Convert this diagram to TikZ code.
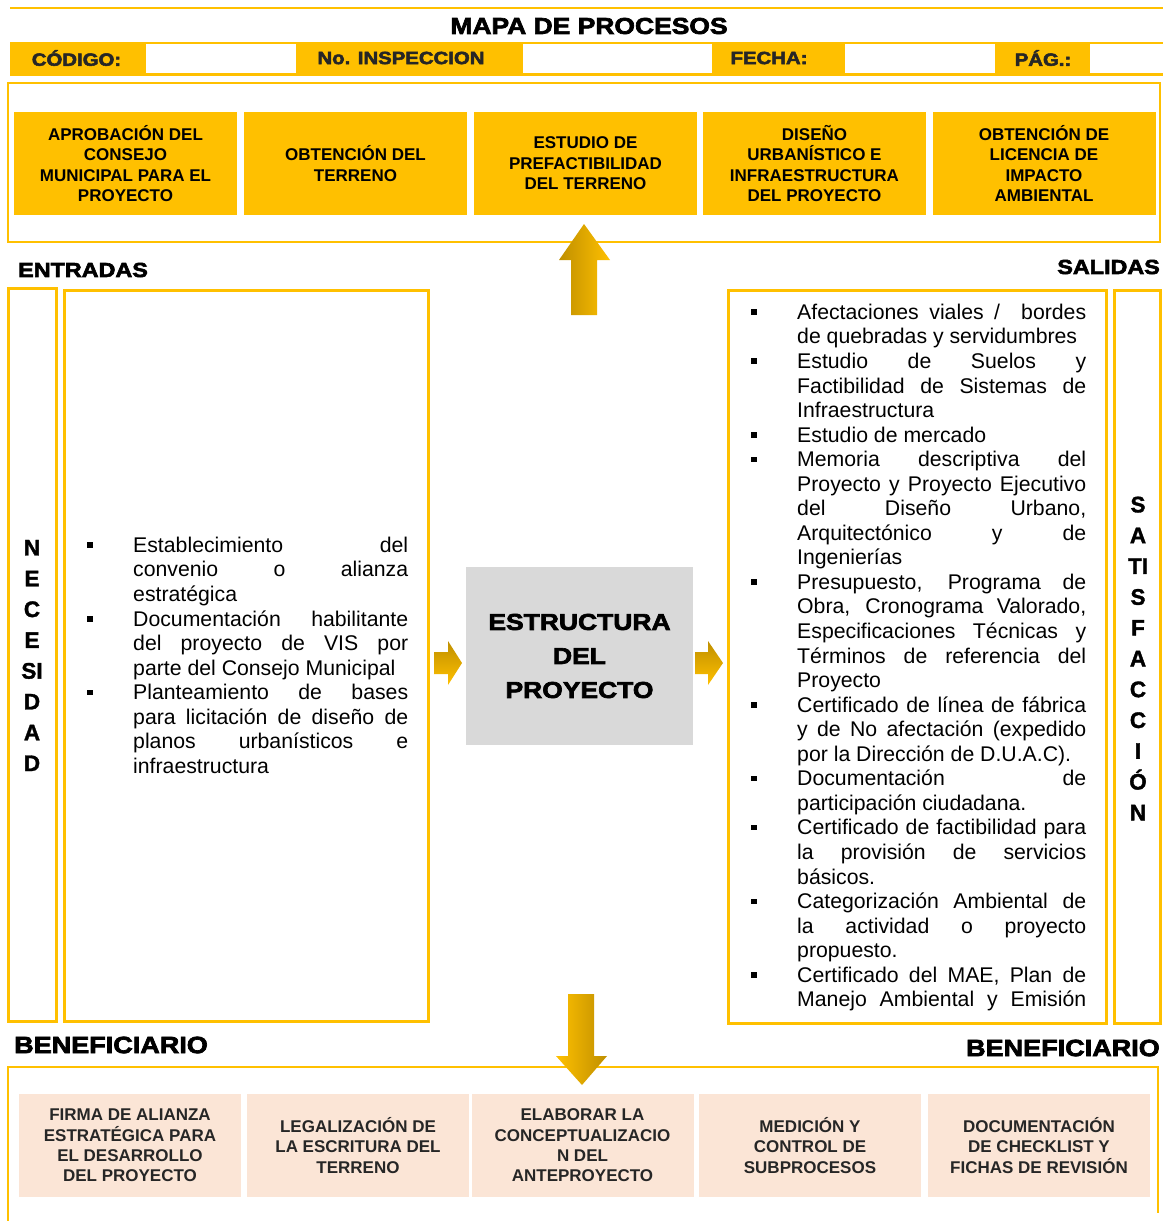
\documentclass[tikz,border=0pt]{standalone}
\usepackage{fontspec}
\setmainfont{Liberation Sans}
\newfontfamily\heavy[FakeBold=3,FakeStretch=1.15]{Liberation Sans Bold}
\newfontfamily\semiheavy[FakeBold=1.5]{Liberation Sans Bold}
\definecolor{gold}{HTML}{FFC000}
\definecolor{dgold}{HTML}{BF8F00}
\definecolor{peach}{HTML}{FBE5D6}
\definecolor{gbox}{HTML}{D9D9D9}
\definecolor{txt}{HTML}{262626}
\newcommand\bul{\makebox[46pt][l]{\rule[4.5pt]{5.5pt}{5.5pt}}}
\newcommand\ind{\hspace*{46pt}}
\newcommand\JE[1]{\makebox[275pt][s]{#1}}
\newcommand\JS[1]{\makebox[289pt][s]{#1}}
\tikzset{
  topbox/.style={fill=gold, minimum width=223pt, minimum height=103pt, inner sep=0pt, align=center, font=\bfseries\fontsize{17}{20.4}\selectfont},
  botbox/.style={fill=peach, minimum width=222pt, minimum height=103pt, inner sep=0pt, align=center, text=txt, font=\bfseries\fontsize{17}{20.3}\selectfont},
  frameline/.style={draw=gold, line width=2.5pt},
  colbox/.style={draw=gold, line width=3pt},
  hlabel/.style={inner sep=0pt, text=txt, font=\heavy\fontsize{17.7}{20}\selectfont},
  sect/.style={inner sep=0pt, font=\heavy\fontsize{20.3}{22}\selectfont},
  listtext/.style={inner sep=0pt, align=left, font=\fontsize{21.25}{24.55}\selectfont},
  vert/.style={inner sep=0pt, align=center, font=\semiheavy\fontsize{22.5}{30.8}\selectfont},
  shadeV/.style={top color=dgold, bottom color=gold, draw=none},
}
\begin{document}
\begin{tikzpicture}[x=1pt,y=-1pt]
\useasboundingbox (0,0) rectangle (1163,1221);
% top line and title
\draw[gold, line width=1.5pt] (10,8) -- (1163,8);
\node[inner sep=0pt, font=\heavy\fontsize{23}{24}\selectfont] (title) at (589,26) {MAPA DE PROCESOS};
% header band
\fill[gold] (10,42) rectangle (1163,76);
\fill[white] (146,44) rectangle (296,73);
\fill[white] (523,44) rectangle (712,73);
\fill[white] (845,44) rectangle (995,73);
\fill[white] (1090,44) rectangle (1163,73);
\node[hlabel] (hcod) at (76.5,58) {CÓDIGO:};
\node[hlabel] (hins) at (401,58) {No. INSPECCION};
\node[hlabel] (hfec) at (769,58) {FECHA:};
\node[hlabel] (hpag) at (1043,58) {PÁG.:};
% top frame
\draw[frameline] (8,83) rectangle (1160,242);
\node[topbox] (t1) at (125.5,163.5) {APROBACIÓN DEL\\CONSEJO\\MUNICIPAL PARA EL\\PROYECTO};
\node[topbox] (t2) at (355.5,163.5) {OBTENCIÓN DEL\\TERRENO};
\node[topbox] (t3) at (585.5,163.5) {ESTUDIO DE\\PREFACTIBILIDAD\\DEL TERRENO};
\node[topbox] (t4) at (814.5,163.5) {DISEÑO\\URBANÍSTICO E\\INFRAESTRUCTURA\\DEL PROYECTO};
\node[topbox] (t5) at (1044,163.5) {OBTENCIÓN DE\\LICENCIA DE\\IMPACTO\\AMBIENTAL};
% section labels
\node[sect, anchor=west] (entradas) at (18,270) {ENTRADAS};
\node[sect, anchor=east] (salidas) at (1160,267) {SALIDAS};
% columns
\draw[colbox] (8,288) rectangle (56,1021);
\draw[colbox] (64,290) rectangle (428,1021);
\draw[colbox] (728,290) rectangle (1106,1023);
\draw[colbox] (1114,290) rectangle (1160,1023);
\node[vert] (nec) at (32,655.5) {N\\E\\C\\E\\SI\\D\\A\\D};
\node[vert] (sat) at (1138,658.5) {S\\A\\TI\\S\\F\\A\\C\\C\\I\\Ó\\N};
% entradas list
\node[listtext, anchor=north west] (entr) at (87,535) {%
\strut\bul\JE{Establecimiento del}\\
\strut\ind\JE{convenio o alianza}\\
\strut\ind estratégica\\
\strut\bul\JE{Documentación habilitante}\\
\strut\ind\JE{del proyecto de VIS por}\\
\strut\ind parte del Consejo Municipal\\
\strut\bul\JE{Planteamiento de bases}\\
\strut\ind\JE{para licitación de diseño de}\\
\strut\ind\JE{planos urbanísticos e}\\
\strut\ind infraestructura};
% salidas list
\node[listtext, anchor=north west] (sal) at (751,302) {%
\strut\bul\JS{Afectaciones viales / \ bordes}\\
\strut\ind de quebradas y servidumbres\\
\strut\bul\JS{Estudio de Suelos y}\\
\strut\ind\JS{Factibilidad de Sistemas de}\\
\strut\ind Infraestructura\\
\strut\bul Estudio de mercado\\
\strut\bul\JS{Memoria descriptiva del}\\
\strut\ind\JS{Proyecto y Proyecto Ejecutivo}\\
\strut\ind\JS{del Diseño Urbano,}\\
\strut\ind\JS{Arquitectónico y de}\\
\strut\ind Ingenierías\\
\strut\bul\JS{Presupuesto, Programa de}\\
\strut\ind\JS{Obra, Cronograma Valorado,}\\
\strut\ind\JS{Especificaciones Técnicas y}\\
\strut\ind\JS{Términos de referencia del}\\
\strut\ind Proyecto\\
\strut\bul\JS{Certificado de línea de fábrica}\\
\strut\ind\JS{y de No afectación (expedido}\\
\strut\ind por la Dirección de D.U.A.C).\\
\strut\bul\JS{Documentación de}\\
\strut\ind participación ciudadana.\\
\strut\bul\JS{Certificado de factibilidad para}\\
\strut\ind\JS{la provisión de servicios}\\
\strut\ind básicos.\\
\strut\bul\JS{Categorización Ambiental de}\\
\strut\ind\JS{la actividad o proyecto}\\
\strut\ind propuesto.\\
\strut\bul\JS{Certificado del MAE, Plan de}\\
\strut\ind\JS{Manejo Ambiental y Emisión}};
% core
\node[fill=gbox, minimum width=227pt, minimum height=178pt, inner sep=0pt, align=center, font=\heavy\fontsize{23}{34}\selectfont] (core) at (579.5,656) {ESTRUCTURA\\DEL\\PROYECTO};
% side arrows
\path[shadeV] (434,652) -- (448,652) -- (448,641) -- (462,663) -- (448,685) -- (448,674) -- (434,674) -- cycle;
\path[shadeV] (695,652) -- (708,652) -- (708,641) -- (723,663) -- (708,685) -- (708,674) -- (695,674) -- cycle;
% up arrow
\path[left color=dgold, right color=gold] (571,315) -- (571,260) -- (559,260) -- (584,224) -- (610,260) -- (597,260) -- (597,315) -- cycle;
% bottom
\node[sect, anchor=west, font=\heavy\fontsize{23.5}{24}\selectfont] (ben1) at (14,1045) {BENEFICIARIO};
\node[sect, anchor=east, font=\heavy\fontsize{23.5}{24}\selectfont] (ben2) at (1160,1048) {BENEFICIARIO};
\draw[frameline] (8,1221) -- (8,1067) -- (1158,1067) -- (1158,1213);
\node[botbox] (b1) at (130,1145.5) {FIRMA DE ALIANZA\\ESTRATÉGICA PARA\\EL DESARROLLO\\DEL PROYECTO};
\node[botbox] (b2) at (358,1145.5) {LEGALIZACIÓN DE\\LA ESCRITURA DEL\\TERRENO};
\node[botbox] (b3) at (582.5,1145.5) {ELABORAR LA\\CONCEPTUALIZACIO\\N DEL\\ANTEPROYECTO};
\node[botbox] (b4) at (810,1145.5) {MEDICIÓN Y\\CONTROL DE\\SUBPROCESOS};
\node[botbox] (b5) at (1039,1145.5) {DOCUMENTACIÓN\\DE CHECKLIST Y\\FICHAS DE REVISIÓN};
% down arrow
\path[left color=gold, right color=dgold] (568,994) -- (594,994) -- (594,1056) -- (607,1056) -- (582,1085) -- (556,1056) -- (568,1056) -- cycle;
\end{tikzpicture}
\end{document}
